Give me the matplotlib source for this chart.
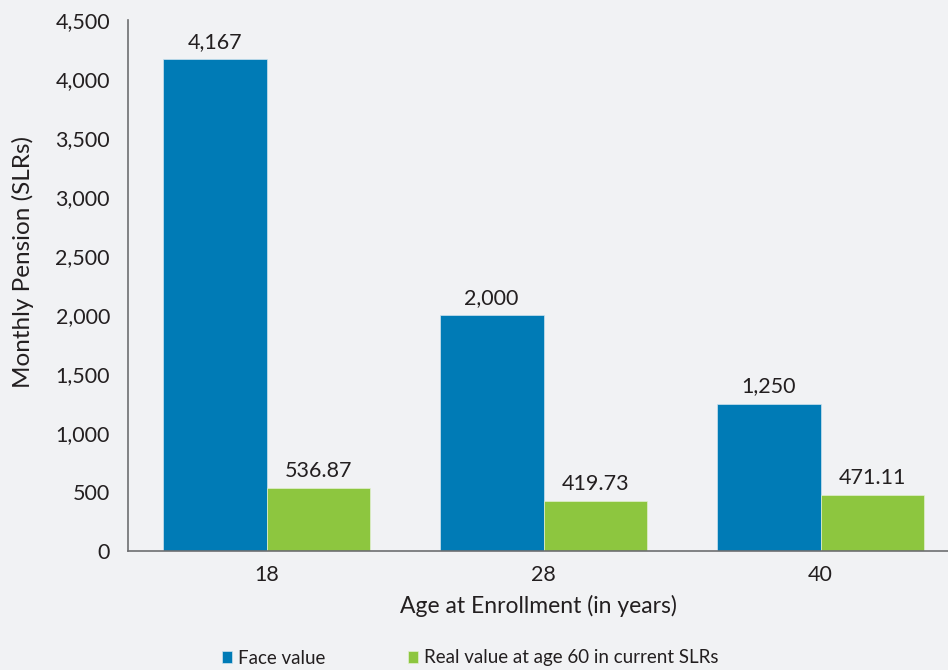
import matplotlib.pyplot as plt
import numpy as np

plt.rcParams['font.family'] = ['Lato', 'DejaVu Sans']

ages = ['18', '28', '40']
face_value = [4167, 2000, 1250]
real_value = [536.87, 419.73, 471.11]
face_labels = ['4,167', '2,000', '1,250']
real_labels = ['536.87', '419.73', '471.11']
y_ticks = [0, 500, 1000, 1500, 2000, 2500, 3000, 3500, 4000, 4500]

bg = '#f1f2f4'
blue = '#007bb6'
green = '#8dc63f'
text_col = '#231f20'

fig = plt.figure(figsize=(9.48, 6.7), dpi=100, facecolor=bg)
ax = fig.add_axes([128 / 948, 1 - 551 / 670, 1 - 128 / 948, (551 - 20) / 670])
ax.set_facecolor(bg)

x = np.arange(len(ages))
w = 0.375
b1 = ax.bar(x - w / 2, face_value, w, color=blue, edgecolor='#cfe3ee',
            linewidth=0.5, label='Face value')
b2 = ax.bar(x + w / 2, real_value, w, color=green, edgecolor='#e3f0d0',
            linewidth=0.5, label='Real value at age 60 in current SLRs')

for bars, labels in ((b1, face_labels), (b2, real_labels)):
    for bar, lab in zip(bars, labels):
        ax.text(bar.get_x() + bar.get_width() / 2, bar.get_height() + 60, lab,
                ha='center', va='bottom', fontsize=15.5, color=text_col)

ax.set_xlim(-0.5, -0.5 + (948 - 128) / 277)
ax.set_ylim(0, 4500)
ax.set_xticks(x)
ax.set_xticklabels(ages)
ax.set_yticks(y_ticks)
ax.set_yticklabels([f'{v:,}' for v in y_ticks])
ax.tick_params(length=0, labelsize=15.5, labelcolor=text_col)
ax.tick_params(axis='y', pad=13)
ax.tick_params(axis='x', pad=10)

for side in ('top', 'right'):
    ax.spines[side].set_visible(False)
for side in ('left', 'bottom'):
    ax.spines[side].set_color('#6d6e71')
    ax.spines[side].set_linewidth(1.2)

ax.set_xlabel('Age at Enrollment (in years)', fontsize=16.5, color=text_col,
              labelpad=7)
ax.set_ylabel('Monthly Pension (SLRs)', fontsize=17.5, color=text_col,
              va='center')
ax.yaxis.set_label_coords(-(128 - 23) / 820, 0.544)

fig.legend(handles=[b1, b2], loc='center', bbox_to_anchor=(0.496, 1 - 658 / 670),
           ncol=2, frameon=False, fontsize=13.5, handlelength=0.55,
           handleheight=0.55, handletextpad=0.3, columnspacing=4.4,
           labelcolor=text_col)

fig.savefig('out.png', dpi=100, facecolor=bg)
